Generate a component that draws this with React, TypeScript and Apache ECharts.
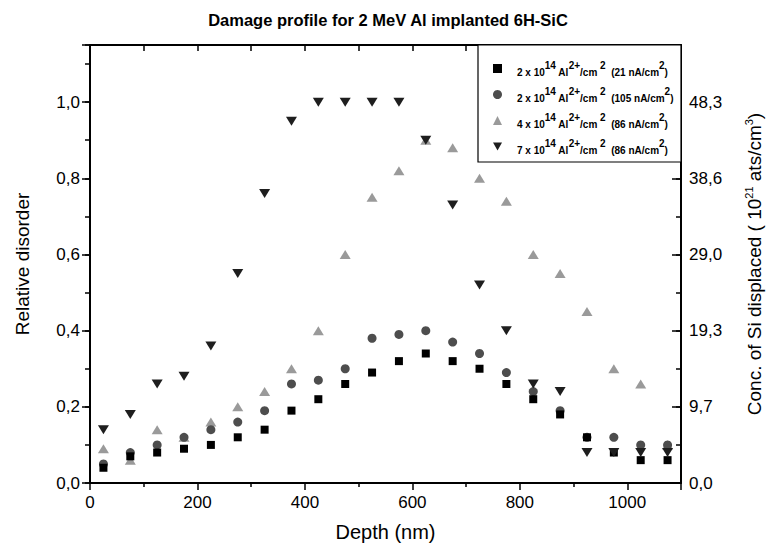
import React, { useEffect, useRef } from "react";
import * as echarts from "echarts";

const depth = [25, 75, 125, 175, 225, 275, 325, 375, 425, 475, 525, 575, 625, 675, 725, 775, 825, 875, 925, 975, 1025, 1075];
const s21 = [0.04, 0.07, 0.08, 0.09, 0.10, 0.12, 0.14, 0.19, 0.22, 0.26, 0.29, 0.32, 0.34, 0.32, 0.30, 0.26, 0.22, 0.18, 0.12, 0.08, 0.06, 0.06];
const s105 = [0.05, 0.08, 0.10, 0.12, 0.14, 0.16, 0.19, 0.26, 0.27, 0.30, 0.38, 0.39, 0.40, 0.37, 0.34, 0.29, 0.24, 0.19, 0.12, 0.12, 0.10, 0.10];
const s4e14 = [0.09, 0.06, 0.14, 0.12, 0.16, 0.20, 0.24, 0.30, 0.40, 0.60, 0.75, 0.82, 0.90, 0.88, 0.80, 0.74, 0.60, 0.55, 0.45, 0.30, 0.26, 0.10];
const s7e14 = [0.14, 0.18, 0.26, 0.28, 0.36, 0.55, 0.76, 0.95, 1.0, 1.0, 1.0, 1.0, 0.90, 0.73, 0.52, 0.40, 0.26, 0.24, 0.08, 0.08, 0.08, 0.08];

const legendLabels: Record<string, string> = {
  s21: "{f|2 x 10}{s|14}{b| Al}{s|2+}{b|/cm}{s| 2}{b|  (21 nA/cm}{s|2}{b|)}",
  s105: "{f|2 x 10}{s|14}{b| Al}{s|2+}{b|/cm}{s| 2}{b|  (105 nA/cm}{s|2}{b|)}",
  s4: "{f|4 x 10}{s|14}{b| Al}{s|2+}{b|/cm}{s| 2}{b|  (86 nA/cm}{s|2}{b|)}",
  s7: "{f|7 x 10}{s|14}{b| Al}{s|2+}{b|/cm}{s| 2}{b|  (86 nA/cm}{s|2}{b|)}",
};
const RIGHT_FACTOR = 48.3;

const FONT = "'Liberation Sans', Arial, Helvetica, sans-serif";

export default function App() {
  const ref = useRef<HTMLDivElement>(null);
  useEffect(() => {
    if (!ref.current) return;
    const chart = echarts.init(ref.current, undefined, { renderer: "svg" });
    const pts = (ys: number[]) => depth.map((d, i) => [d, ys[i]]);
    const axisLine = { show: true, onZero: false, lineStyle: { color: "#000", width: 2 } };
    const tickStyle = { color: "#000", width: 1.5 };
    const txt = { fontSize: 10, fontWeight: "bold", color: "#000", fontFamily: FONT };
    chart.setOption({
      animation: false,
      backgroundColor: "#fff",
      textStyle: { fontFamily: FONT },
      title: {
        text: "Damage profile for 2 MeV Al implanted 6H-SiC",
        left: "center",
        top: 3,
        padding: 0,
        textStyle: { fontFamily: FONT, fontSize: 16.5, fontWeight: "bold", color: "#000" },
      },
      grid: { left: 82, right: 87, top: 37, bottom: 60, outerBoundsMode: "none", containLabel: false },
      graphic: [
        {
          type: "rect",
          shape: { x: 470, y: 37, width: 203, height: 117 },
          style: { fill: "#fff", stroke: "#000", lineWidth: 1.2 },
          z: 50,
        },
      ],
      legend: {
        orient: "vertical",
        left: 485,
        top: 52,
        padding: 0,
        itemGap: 9,
        itemWidth: 9,
        itemHeight: 9,
        z: 60,
        data: [
          { name: "s21", icon: "rect" },
          { name: "s105", icon: "circle" },
          { name: "s4", icon: "triangle" },
          { name: "s7", icon: "path://M0,0L10,0L5,8.66Z" },
        ],
        formatter: (name: string) => legendLabels[name],
        textStyle: {
          fontFamily: FONT,
          rich: {
            f: { ...txt, padding: [7, 0, 0, 10] },
            b: { ...txt, padding: [7, 0, 0, 0] },
            s: { ...txt, padding: [0, 0, 7, 0] },
          },
        },
      },
      xAxis: [
        {
          type: "value",
          min: 0,
          max: 1100,
          interval: 200,
          position: "bottom",
          name: "Depth (nm)",
          nameLocation: "middle",
          nameGap: 39,
          nameTextStyle: { fontFamily: FONT, fontSize: 20, color: "#000" },
          axisLine,
          axisTick: { show: true, length: 7, inside: false, lineStyle: tickStyle },
          minorTick: { show: true, splitNumber: 2, length: 4, lineStyle: tickStyle },
          axisLabel: {
            fontFamily: FONT,
            fontSize: 17,
            color: "#000",
            margin: 11,
            formatter: (v: number) => (v > 1000 ? "" : String(v)),
          },
          splitLine: { show: false },
        },
        {
          type: "value",
          min: 0,
          max: 1100,
          interval: 100,
          position: "top",
          axisLine,
          axisTick: { show: true, length: 6, inside: true, lineStyle: tickStyle },
          axisLabel: { show: false },
          splitLine: { show: false },
        },
      ],
      yAxis: [
        {
          type: "value",
          min: 0,
          max: 1.15,
          interval: 0.2,
          position: "left",
          name: "Relative disorder",
          nameLocation: "middle",
          nameGap: 58,
          nameTextStyle: { fontFamily: FONT, fontSize: 19, color: "#000" },
          axisLine,
          axisTick: { show: true, length: 8, inside: false, lineStyle: tickStyle },
          axisLabel: {
            fontFamily: FONT,
            fontSize: 17,
            color: "#000",
            margin: 10,
            formatter: (v: number) => (v > 1.05 ? "" : v.toFixed(1).replace(".", ",")),
          },
          splitLine: { show: false },
        },
        {
          type: "value",
          min: 0,
          max: 1.15,
          interval: 0.2,
          position: "right",
          name: "Conc. of Si displaced ( 10{s|21} ats/cm{s|3})",
          nameLocation: "middle",
          nameGap: 62,
          nameTextStyle: {
            fontFamily: FONT,
            fontSize: 19,
            color: "#000",
            rich: {
              s: { fontSize: 11, fontFamily: FONT, color: "#000", padding: [0, 0, 11, 0] },
            },
          },
          axisLine,
          axisTick: { show: true, length: 9, inside: true, lineStyle: tickStyle },
          axisLabel: {
            fontFamily: FONT,
            fontSize: 17,
            color: "#000",
            margin: 8,
            formatter: (v: number) => (v > 1.05 ? "" : (v * RIGHT_FACTOR).toFixed(1).replace(".", ",")),
          },
          splitLine: { show: false },
        },
        {
          type: "value",
          min: 0,
          max: 1.15,
          interval: 0.1,
          position: "left",
          axisLine: { show: false, onZero: false },
          axisTick: { show: true, length: 5, inside: false, lineStyle: tickStyle },
          axisLabel: { show: false },
          splitLine: { show: false },
        },
        {
          type: "value",
          min: 0,
          max: 1.15,
          interval: 0.1,
          position: "right",
          axisLine: { show: false, onZero: false },
          axisTick: { show: true, length: 5, inside: true, lineStyle: tickStyle },
          axisLabel: { show: false },
          splitLine: { show: false },
        },
      ],
      series: [
        {
          name: "s21",
          type: "scatter",
          symbol: "rect",
          symbolSize: 8,
          itemStyle: { color: "#000", opacity: 1 },
          data: pts(s21),
          z: 5,
        },
        {
          name: "s105",
          type: "scatter",
          symbol: "circle",
          symbolSize: 9,
          itemStyle: { color: "#4d4d4d", opacity: 1 },
          data: pts(s105),
          z: 4,
        },
        {
          name: "s4",
          type: "scatter",
          symbol: "triangle",
          symbolSize: [11, 9],
          itemStyle: { color: "#9a9a9a", opacity: 1 },
          data: pts(s4e14),
          z: 3,
        },
        {
          name: "s7",
          type: "scatter",
          symbol: "triangle",
          symbolRotate: 180,
          symbolSize: [11, 9],
          itemStyle: { color: "#1e1e1e", opacity: 1 },
          data: pts(s7e14),
          z: 6,
        },
      ],
    });
    return () => chart.dispose();
  }, []);
  return <div ref={ref} style={{ width: 760, height: 535 }} />;
}
